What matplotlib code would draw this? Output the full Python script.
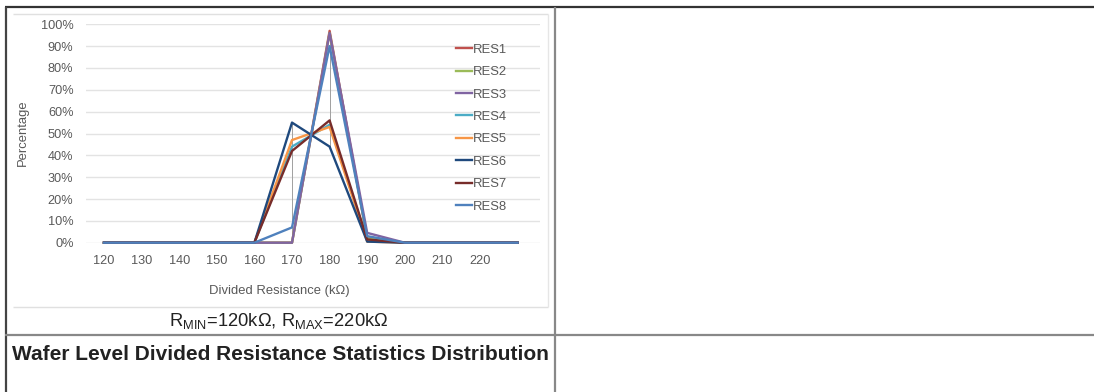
import matplotlib
matplotlib.use("Agg")
import matplotlib.pyplot as plt
from matplotlib.lines import Line2D
import numpy as np

plt.rcParams['font.family'] = ['Liberation Sans', 'DejaVu Sans']

resistance = [120, 130, 140, 150, 160, 170, 180, 190, 200, 210, 220, 230]
tick_labels = ['120', '130', '140', '150', '160', '170', '180', '190', '200', '210', '220']
series_names = ['RES1', 'RES2', 'RES3', 'RES4', 'RES5', 'RES6', 'RES7', 'RES8']
res1 = [0, 0, 0, 0, 0, 0, 97, 2, 0, 0, 0, 0]
res2 = [0, 0, 0, 0, 0, 0, 96, 2, 0, 0, 0, 0]
res3 = [0, 0, 0, 0, 0, 0, 96, 4.5, 0, 0, 0, 0]
res4 = [0, 0, 0, 0, 0, 44, 54, 1, 0, 0, 0, 0]
res5 = [0, 0, 0, 0, 0, 47, 53, 0.5, 0, 0, 0, 0]
res6 = [0, 0, 0, 0, 0, 55, 44, 0.5, 0, 0, 0, 0]
res7 = [0, 0, 0, 0, 0, 42, 56, 1.5, 0, 0, 0, 0]
res8 = [0, 0, 0, 0, 0, 7, 90, 3, 0, 0, 0, 0]
series_values = [res1, res2, res3, res4, res5, res6, res7, res8]
colors = ['#C0504D', '#9BBB59', '#8064A2', '#4BACC6', '#F79646', '#1F497D', '#772C2A', '#4F81BD']

W, H = 1094, 392
fig = plt.figure(figsize=(W / 100, H / 100), dpi=100)

def fx(px):
    return px / W

def fy(py):
    return 1 - py / H

# table borders
def fline(x0, y0, x1, y1, color, lw):
    fig.add_artist(Line2D([fx(x0), fx(x1)], [fy(y0), fy(y1)], color=color, lw=lw,
                          transform=fig.transFigure, solid_capstyle='butt'))

fline(5, 7, 1094, 7, '#333333', 1.6)
fline(5.5, 7, 5.5, 392, '#444444', 1.6)
fline(555, 7, 555, 392, '#888888', 1.6)
fline(5, 335, 1094, 335, '#888888', 1.6)
fline(13, 13.5, 548, 13.5, '#e0e0e0', 1.0)
fline(13, 306.5, 548, 306.5, '#e0e0e0', 1.0)
fline(548, 13.5, 548, 306.5, '#e6e6e6', 1.0)

# chart axes
left, right = 86, 540
top, bottom = 24.3, 242.7
ax = fig.add_axes([fx(left), fy(bottom), fx(right) - fx(left), (bottom - top) / H])
x_left = 120 - (104 - left) / 3.76
x_right = 120 + (right - 104) / 3.76
ax.set_xlim(x_left, x_right)
ax.set_ylim(0, 100)

for s in ax.spines.values():
    s.set_visible(False)
ax.set_yticks(np.arange(0, 101, 10))
ax.set_yticklabels([f'{v}%' for v in range(0, 101, 10)])
ax.yaxis.grid(True, color='#e3e3e3', lw=1.0, zorder=0)
ax.set_axisbelow(True)
ax.tick_params(axis='both', length=0, labelsize=9.2, labelcolor='#595959')
ax.tick_params(axis='y', pad=9)
ax.tick_params(axis='x', pad=8.5)
ax.set_xticks([int(t) for t in tick_labels])
ax.set_xticklabels(tick_labels)

vals = np.array(series_values)
ax.vlines(resistance, vals.min(axis=0), vals.max(axis=0), color='#a0a0a0', lw=0.7, zorder=1)

for name, v, c in zip(series_names, series_values, colors):
    ax.plot(resistance, v, color=c, lw=1.7, label=name, clip_on=False, zorder=3)

leg = ax.legend(loc='upper left', bbox_to_anchor=((456 - left) / (right - left), (bottom - 43.5) / (bottom - top)),
                frameon=False, fontsize=9.4, handlelength=1.22, handletextpad=0.08,
                labelspacing=0.79, borderaxespad=0, borderpad=0)
for t in leg.get_texts():
    t.set_color('#595959')

fig.text(fx(22.5), fy(133), 'Percentage', rotation=90, ha='center', va='center',
         fontsize=9.4, color='#595959')
fig.text(fx(279.5), fy(291), 'Divided Resistance (kΩ)', ha='center', va='center',
         fontsize=9.4, color='#595959')
fig.text(fx(279), fy(321), r'R$\mathregular{_{MIN}}$=120kΩ, R$\mathregular{_{MAX}}$=220kΩ',
         ha='center', va='center', fontsize=13.2, color='#222222')
fig.text(fx(12), fy(354), 'Wafer Level Divided Resistance Statistics Distribution',
         ha='left', va='center', fontsize=15, fontweight='bold', color='#222222')

fig.savefig('out.png', dpi=100)
